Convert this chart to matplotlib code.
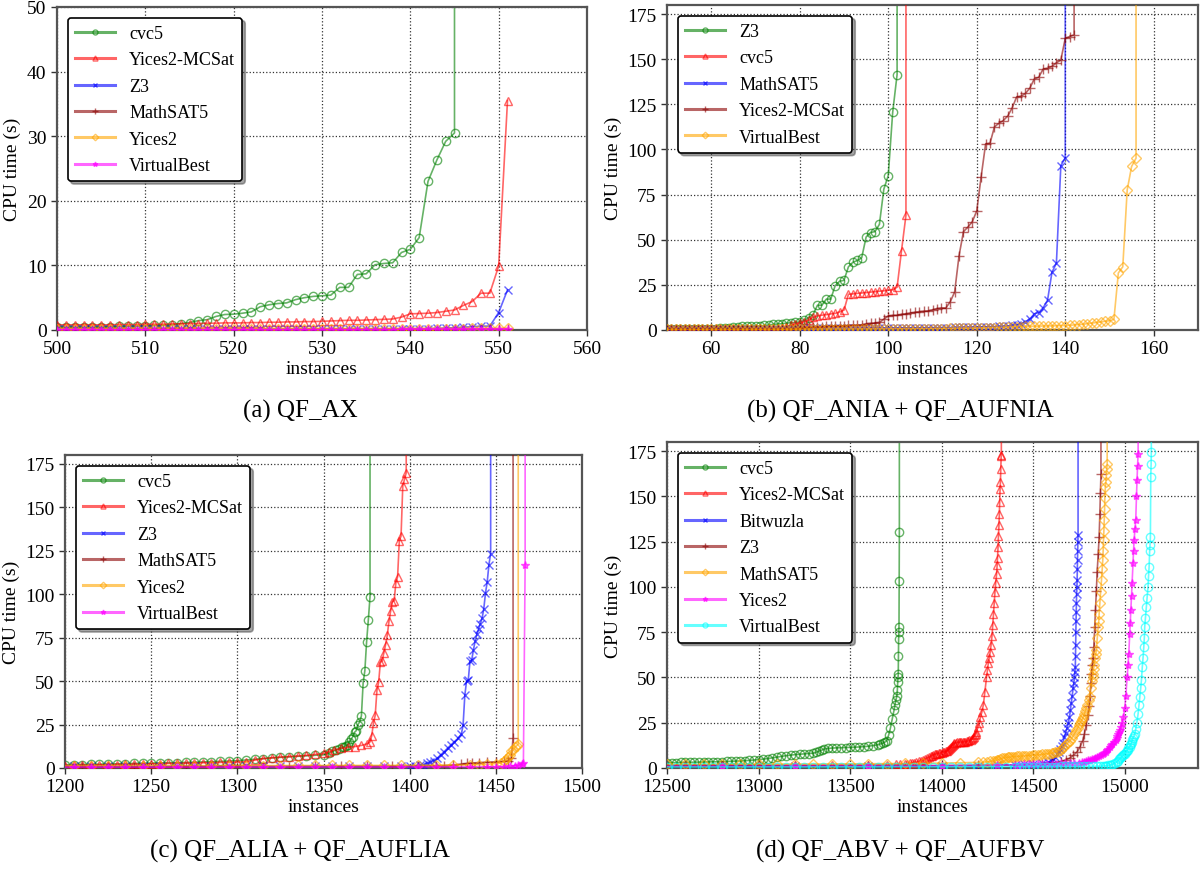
import matplotlib
matplotlib.use("Agg")
import matplotlib.pyplot as plt

plt.rcParams['font.family'] = ['Liberation Serif', 'DejaVu Serif']

TIMEOUT = 1200  # unsolved instances are drawn as a vertical line out of the plot

# per-position style (the papers' plotting script cycles these)
COLORS = ['green', 'red', 'blue', 'darkred', 'orange', 'magenta', 'cyan']
MARKERS = ['o', '^', 'x', '+', 'D', '*', 'o']
MSIZE = {'o': 6, '^': 6, 'x': 6, '+': 7, 'D': 5.5, '*': 6}

# ---------------- (a) QF_AX : one value per instance, starting at 499
a_start = 499
a_cvc5 = [0.45, 0.45, 0.45, 0.45, 0.45, 0.45, 0.45, 0.5, 0.55, 0.6,
          0.6, 0.65, 0.7, 0.75, 0.8, 1.0, 1.15, 1.45, 1.6, 2.1,
          2.4, 2.45, 2.6, 2.8, 3.6, 3.9, 4.1, 4.2, 4.7, 5.0,
          5.2, 5.3, 5.4, 6.6, 6.6, 8.6, 8.7, 10.1, 10.3, 10.4,
          12.0, 12.5, 14.3, 23.0, 26.3, 29.2, 30.5]
a_mcsat = [0.8, 0.8, 0.8, 0.8, 0.8, 0.8, 0.8, 0.8, 0.85, 0.85,
           0.85, 0.9, 0.9, 0.9, 0.95, 0.95, 1.0, 1.0, 1.05, 1.05,
           1.1, 1.1, 1.1, 1.15, 1.15, 1.2, 1.2, 1.25, 1.25, 1.3,
           1.3, 1.35, 1.4, 1.45, 1.5, 1.5, 1.55, 1.6, 1.65, 1.7,
           2.0, 2.5, 2.55, 2.6, 2.7, 2.9, 3.1, 3.8, 4.4, 5.7,
           5.7, 9.9, 35.5]
a_z3 = [0.1, 0.1, 0.1, 0.1, 0.1, 0.1, 0.1, 0.1, 0.1, 0.1,
        0.1, 0.1, 0.1, 0.1, 0.1, 0.1, 0.1, 0.1, 0.1, 0.1,
        0.12, 0.12, 0.12, 0.12, 0.12, 0.12, 0.12, 0.12, 0.12, 0.12,
        0.15, 0.15, 0.15, 0.15, 0.15, 0.15, 0.15, 0.15, 0.15, 0.15,
        0.15, 0.15, 0.15, 0.2, 0.25, 0.3, 0.35, 0.45, 0.5, 0.6,
        0.6, 2.7, 6.2]
a_msat = [0.05, 0.05, 0.05, 0.05, 0.05, 0.05, 0.05, 0.05, 0.05, 0.05,
          0.05, 0.05, 0.05, 0.05, 0.05, 0.05, 0.05, 0.05, 0.05, 0.05,
          0.05, 0.05, 0.05, 0.05, 0.05, 0.05, 0.05, 0.05, 0.05, 0.05,
          0.06, 0.06, 0.06, 0.06, 0.06, 0.06, 0.06, 0.06, 0.06, 0.06,
          0.07, 0.07, 0.07, 0.07, 0.07, 0.08, 0.08, 0.08, 0.09, 0.09,
          0.1, 0.1, 0.1]
a_yices = [0.15, 0.15, 0.15, 0.15, 0.15, 0.15, 0.15, 0.15, 0.15, 0.15,
           0.15, 0.15, 0.15, 0.15, 0.15, 0.15, 0.15, 0.15, 0.15, 0.15,
           0.17, 0.17, 0.17, 0.17, 0.17, 0.17, 0.17, 0.17, 0.17, 0.17,
           0.18, 0.18, 0.18, 0.18, 0.18, 0.18, 0.18, 0.18, 0.18, 0.18,
           0.2, 0.2, 0.2, 0.2, 0.2, 0.2, 0.22, 0.22, 0.24, 0.25,
           0.26, 0.28, 0.3]
a_vb = [0.05, 0.05, 0.05, 0.05, 0.05, 0.05, 0.05, 0.05, 0.05, 0.05,
        0.05, 0.05, 0.05, 0.05, 0.05, 0.05, 0.05, 0.05, 0.05, 0.05,
        0.06, 0.06, 0.06, 0.06, 0.06, 0.06, 0.06, 0.06, 0.06, 0.06,
        0.07, 0.07, 0.07, 0.07, 0.07, 0.07, 0.07, 0.07, 0.07, 0.07,
        0.08, 0.08, 0.08, 0.08, 0.08, 0.08, 0.09, 0.09, 0.09, 0.1,
        0.1, 0.1, 0.1]

# ---------------- (b) QF_ANIA + QF_AUFNIA : one value per instance, starting at 49
b_start = 49
b_z3 = [0.6, 0.6, 0.6, 0.6, 0.65, 0.65, 0.7, 0.7, 0.7, 0.75,
        0.75, 0.8, 0.8, 0.85, 0.9, 0.9,
        1.8, 1.9, 2.0, 2.0, 2.0, 2.1, 2.3, 2.5, 2.8, 3.1,
        3.3, 3.5, 3.8, 4.0, 4.2, 4.5, 5.3, 6.8, 8.5,
        13.7, 13.7, 17.1, 17.1, 24.5, 27.0, 27.5, 35.0, 37.5, 38.5,
        40.0, 51.5, 54.0, 54.5, 58.5, 78.0, 85.5, 120.5, 141.5]
b_cvc5 = [0.4, 0.4, 0.4, 0.4, 0.4, 0.45, 0.45, 0.45, 0.45, 0.45,
          0.5, 0.5, 0.5, 0.5, 0.5, 0.55, 0.55, 0.55, 0.55, 0.6,
          0.6, 0.6, 0.6, 0.65, 0.65, 0.7, 0.7,
          0.9, 1.5, 2.5, 3.3, 4.0, 4.5, 5.5, 7.0, 7.8, 8.2,
          8.5, 8.9, 9.2, 10.0, 11.0, 19.8, 20.0, 20.3, 20.5, 20.7,
          21.0, 21.2, 21.5, 21.7, 22.0, 22.3, 23.7, 44.0, 63.5]
b_msat = [0.5, 0.5, 0.5, 0.5, 0.5, 0.5, 0.5, 0.5, 0.55, 0.55,
          0.55, 0.55, 0.6, 0.6, 0.6, 0.6, 0.6, 0.65, 0.65, 0.65,
          0.65, 0.7, 0.7, 0.7, 0.7, 0.75, 0.75, 0.75, 0.8, 0.8,
          0.8, 0.8, 0.85, 0.85, 0.85, 0.9, 0.9, 0.9, 0.95, 0.95,
          0.95, 1.0, 1.0, 1.0, 1.0, 1.05, 1.05, 1.05, 1.1, 1.1,
          1.1, 1.15, 1.15, 1.15, 1.2, 1.2, 1.2, 1.25, 1.25, 1.25,
          1.3, 1.3, 1.3, 1.35, 1.35, 1.35, 1.4, 1.4, 1.45, 1.5, 1.55,
          1.6, 1.7, 1.8, 1.9, 1.9, 2.0, 2.0, 2.2, 2.6, 3.0,
          3.5, 4.6, 6.0, 9.0, 9.6, 12.3, 16.5, 32.0, 37.0, 91.0, 95.4]
b_mcsat = [0.3, 0.3, 0.3, 0.3, 0.3, 0.3, 0.3, 0.3, 0.3, 0.3,
           0.35, 0.35, 0.35, 0.35, 0.35, 0.35, 0.35, 0.35, 0.35, 0.35,
           0.4, 0.4, 0.4, 0.4, 0.4, 0.45, 0.45, 0.5, 0.55, 0.6,
           0.8, 1.0, 1.2, 1.4, 1.6, 1.8, 1.9, 2.0, 2.2, 2.3,
           2.35, 2.4, 2.5, 2.6, 2.7, 2.8, 3.5, 3.7, 3.9, 4.2,
           6.0, 7.8, 8.1, 8.1, 8.7, 9.0, 9.4, 9.8, 10.2, 10.4,
           10.6, 11.2, 11.9, 12.2, 12.2, 15.6, 21.0, 41.2, 54.5, 57.0,
           60.0, 66.0, 85.0, 103.0, 103.5, 112.5, 114.5, 116.0, 118.5, 123.0,
           129.0, 129.5, 131.0, 134.0, 139.0, 140.0, 144.5, 145.0, 146.0, 148.0,
           149.5, 161.5, 162.5, 163.5]
b_vb = [0.3, 0.3, 0.3, 0.3, 0.3, 0.3, 0.3, 0.3, 0.3, 0.3,
        0.3, 0.3, 0.3, 0.3, 0.35, 0.35, 0.35, 0.35, 0.35, 0.35,
        0.35, 0.35, 0.4, 0.4, 0.4, 0.4, 0.4, 0.4, 0.4, 0.4,
        0.45, 0.45, 0.45, 0.45, 0.45, 0.45, 0.5, 0.5, 0.5, 0.5,
        0.5, 0.5, 0.5, 0.55, 0.55, 0.55, 0.55, 0.55, 0.6, 0.6,
        0.6, 0.6, 0.6, 0.65, 0.65, 0.65, 0.65, 0.7, 0.7, 0.7,
        0.7, 0.75, 0.75, 0.8, 0.8, 0.85, 0.9, 0.95, 1.0, 1.05,
        1.1, 1.15, 1.2, 1.25, 1.3, 1.35, 1.4, 1.5, 1.6, 1.7,
        1.8, 1.9, 2.0, 2.05, 2.1, 2.15, 2.2, 2.25, 2.3, 2.35,
        2.4, 2.45, 2.6, 2.8, 3.0, 3.2, 3.5, 3.8, 4.1, 4.5,
        4.8, 5.1, 5.9, 31.6, 35.0, 77.6, 90.6, 95.2]

# ---------------- (c) QF_ALIA + QF_AUFLIA : (instances, seconds)
c_cvc5 = [(1195, 1.8), (1200, 1.9), (1205, 2.0), (1210, 2.0), (1215, 2.1), (1220, 2.2),
          (1225, 2.3), (1230, 2.4), (1235, 2.5), (1240, 2.6), (1245, 2.7), (1250, 2.8),
          (1255, 2.9), (1260, 3.0), (1265, 3.1), (1270, 3.2), (1275, 3.35), (1280, 3.5),
          (1285, 3.65), (1290, 3.8), (1295, 4.0), (1300, 4.2), (1305, 4.6), (1310, 5.0),
          (1315, 5.4), (1320, 5.8), (1325, 6.1), (1330, 6.4), (1335, 6.7), (1340, 7.0),
          (1345, 7.3), (1350, 7.6), (1353, 8.5), (1355, 9.5), (1357, 10.2), (1359, 11.0),
          (1361, 11.8), (1362, 12.3), (1363, 12.8), (1364, 13.3), (1365, 15.0), (1366, 16.5),
          (1367, 18.0), (1368, 20.5), (1369, 21.5), (1370, 25.0), (1371, 26.5), (1372, 30.0),
          (1373, 49.0), (1374, 56.0), (1375, 72.5), (1376, 85.0), (1377, 98.5)]
c_mcsat = [(1195, 1.3), (1200, 1.4), (1205, 1.5), (1210, 1.6), (1215, 1.7), (1220, 1.8),
           (1225, 1.9), (1230, 2.0), (1235, 2.1), (1240, 2.2), (1245, 2.3), (1250, 2.4),
           (1255, 2.5), (1260, 2.6), (1265, 2.7), (1270, 2.8), (1275, 2.9), (1280, 3.0),
           (1285, 3.1), (1290, 3.2), (1295, 3.3), (1300, 3.4), (1305, 3.6), (1310, 4.5),
           (1315, 5.4), (1320, 5.9), (1325, 6.3), (1330, 6.6), (1335, 6.9), (1340, 7.3),
           (1345, 7.8), (1350, 8.4), (1353, 9.3), (1356, 10.3), (1360, 11.3), (1364, 11.8),
           (1368, 12.3), (1372, 13.0), (1375, 13.8), (1377, 15.0), (1378, 18.6), (1379, 26.0),
           (1380, 30.2), (1381, 44.6), (1382, 49.3), (1383, 60.7), (1384, 61.5), (1385, 66.0),
           (1386, 70.8), (1387, 76.3), (1388, 84.4), (1389, 90.5), (1390, 95.6), (1391, 96.2),
           (1392, 106.6), (1393, 110.0), (1394, 130.7), (1395, 133.4), (1396, 162.2),
           (1397, 166.0), (1398, 169.8)]
c_z3 = [(1195, 0.9), (1205, 0.9), (1215, 0.9), (1225, 0.9), (1235, 0.9), (1245, 0.9),
        (1255, 0.9), (1265, 0.9), (1275, 0.9), (1285, 0.9), (1295, 0.95), (1305, 0.95),
        (1315, 0.95), (1325, 0.95), (1335, 1.0), (1345, 1.0), (1355, 1.0), (1365, 1.0),
        (1375, 1.0), (1385, 1.0), (1395, 1.0), (1400, 1.0), (1403, 1.2), (1406, 1.6),
        (1408, 2.0), (1410, 2.6), (1412, 3.2), (1414, 4.3), (1416, 5.7), (1418, 7.5),
        (1420, 9.4), (1422, 11.4), (1424, 13.3), (1426, 15.2), (1428, 17.0), (1430, 19.5),
        (1431, 24.7), (1432, 41.7), (1433, 50.0), (1434, 50.5), (1435, 61.5), (1436, 62.0),
        (1437, 68.0), (1438, 73.0), (1439, 77.0), (1440, 80.0), (1441, 83.0), (1442, 86.0),
        (1443, 91.5), (1444, 100.6), (1445, 107.0), (1446, 117.0), (1447, 123.3)]
c_msat = [(1195, 0.8), (1210, 0.8), (1225, 0.8), (1240, 0.8), (1255, 0.8), (1270, 0.8),
          (1285, 0.8), (1300, 0.85), (1315, 0.85), (1330, 0.85), (1345, 0.9), (1360, 0.9),
          (1375, 0.9), (1390, 0.95), (1405, 1.0), (1415, 1.2), (1420, 1.4), (1425, 1.7),
          (1430, 2.2), (1433, 2.6), (1436, 2.9), (1440, 3.1), (1445, 3.3), (1450, 3.5),
          (1455, 3.8), (1457, 4.2), (1459, 5.5), (1460, 17.5)]
c_yices = [(1195, 1.3), (1205, 1.3), (1215, 1.3), (1225, 1.3), (1235, 1.3), (1245, 1.3),
           (1255, 1.35), (1265, 1.35), (1275, 1.35), (1285, 1.35), (1295, 1.4), (1305, 1.4),
           (1315, 1.4), (1325, 1.4), (1335, 1.45), (1345, 1.45), (1355, 1.45), (1365, 1.5),
           (1375, 1.5), (1385, 1.5), (1395, 1.55), (1405, 1.6), (1415, 1.65), (1425, 1.7),
           (1435, 1.8), (1440, 1.9), (1445, 2.1), (1450, 2.5), (1453, 3.0), (1455, 3.8),
           (1456, 5.1), (1457, 6.5), (1458, 7.6), (1459, 9.5), (1460, 10.5), (1461, 12.0),
           (1462, 12.7), (1463, 13.7)]
c_vb = [(1195, 0.5), (1205, 0.5), (1215, 0.5), (1225, 0.5), (1235, 0.5), (1245, 0.5),
        (1255, 0.5), (1265, 0.5), (1275, 0.5), (1285, 0.5), (1295, 0.55), (1305, 0.55),
        (1315, 0.55), (1325, 0.55), (1335, 0.55), (1345, 0.6), (1355, 0.6), (1365, 0.6),
        (1375, 0.6), (1385, 0.6), (1395, 0.65), (1405, 0.65), (1415, 0.65), (1425, 0.7),
        (1435, 0.7), (1445, 0.75), (1450, 0.8), (1455, 0.85), (1458, 0.9), (1461, 1.2),
        (1463, 1.6), (1465, 2.5), (1466, 3.0), (1467, 117.0)]

# ---------------- (d) QF_ABV + QF_AUFBV : (instances, seconds)
d_cvc5 = [(12450, 2.8), (12475, 2.85), (12500, 2.9), (12525, 2.95), (12550, 3.0), (12575, 3.05),
          (12600, 3.1), (12625, 3.15), (12650, 3.2), (12675, 3.25), (12700, 3.3), (12725, 3.35),
          (12750, 3.4), (12775, 3.45), (12800, 3.5), (12825, 3.6), (12850, 3.7), (12875, 3.8),
          (12900, 3.9), (12925, 4.05), (12950, 4.2), (12975, 4.4), (13000, 4.6), (13025, 4.9),
          (13050, 5.2), (13075, 5.6), (13100, 6.0), (13125, 6.4), (13150, 6.8), (13175, 7.1),
          (13200, 7.4), (13225, 7.6), (13250, 7.8), (13275, 8.0), (13300, 8.2), (13315, 8.7),
          (13330, 9.3), (13345, 9.9), (13360, 10.5), (13380, 10.8), (13400, 11.0),
          (13425, 11.1), (13450, 11.2), (13475, 11.3), (13500, 11.4), (13525, 11.5),
          (13550, 11.6), (13575, 11.8), (13600, 12.0), (13625, 12.4), (13650, 12.8),
          (13665, 13.3), (13680, 13.8), (13690, 14.3), (13700, 15.0), (13710, 18.0),
          (13720, 22.0), (13730, 27.0), (13740, 32.0), (13745, 35.0), (13750, 37.5),
          (13755, 39.5), (13758, 43.0), (13760, 47.5), (13762, 50.0), (13763, 52.0),
          (13764, 62.0), (13765, 71.5), (13766, 75.0), (13767, 78.0), (13768, 103.0),
          (13769, 130.5)]
d_mcsat = [(12450, 1.7), (12600, 1.7), (12800, 1.7), (13000, 1.7), (13200, 1.7), (13400, 1.7),
           (13600, 1.8), (13700, 1.9), (13750, 2.0), (13775, 2.1), (13800, 2.2), (13812, 2.4),
           (13825, 2.6), (13837, 2.8), (13850, 3.0), (13862, 3.3), (13875, 3.7), (13887, 4.1),
           (13900, 4.5), (13910, 5.0), (13920, 5.5), (13930, 6.0), (13940, 6.5), (13948, 6.9),
           (13955, 7.3), (13962, 7.6), (13970, 7.8), (13977, 8.0), (13985, 8.2), (13992, 8.3),
           (14000, 8.5), (14008, 8.7), (14015, 9.0), (14022, 9.2), (14030, 9.5), (14035, 10.0),
           (14040, 10.5), (14045, 11.0), (14050, 11.5), (14055, 12.2), (14060, 12.8),
           (14065, 13.3), (14070, 13.8), (14078, 14.0), (14085, 14.2), (14092, 14.25),
           (14100, 14.3), (14108, 14.35), (14115, 14.4), (14122, 14.45), (14130, 14.5),
           (14138, 14.7), (14145, 15.0), (14152, 15.2), (14160, 15.5), (14165, 16.0),
           (14170, 16.5), (14175, 17.2), (14180, 18.0), (14185, 19.0), (14190, 20.0),
           (14198, 22.5), (14205, 25.0), (14212, 28.0), (14220, 31.0), (14228, 35.0),
           (14236, 42.0), (14245, 50.0), (14250, 54.0), (14255, 58.0), (14260, 61.0),
           (14265, 64.0), (14270, 68.0), (14275, 73.0), (14279, 79.0), (14283, 85.0),
           (14287, 91.0), (14291, 97.0), (14295, 102.0), (14300, 107.0), (14303, 112.0),
           (14305, 116.0), (14308, 122.0), (14310, 128.0), (14313, 134.0), (14315, 140.0),
           (14317, 147.0), (14319, 154.0), (14321, 158.0), (14323, 165.0), (14325, 172.0),
           (14326, 173.0)]
d_bitwuzla = [(12450, 1.0), (12800, 1.0), (13200, 1.0), (13600, 1.1), (14000, 1.2), (14200, 1.3),
              (14300, 1.5), (14400, 1.8), (14450, 2.0), (14500, 2.2), (14550, 2.6), (14580, 3.2),
              (14600, 4.0), (14610, 5.0), (14620, 6.0), (14630, 7.5), (14640, 9.0), (14648, 10.5),
              (14655, 12.0), (14662, 14.0), (14670, 17.0), (14677, 19.5), (14685, 22.0),
              (14692, 25.0), (14698, 28.0), (14703, 32.0), (14708, 36.0), (14713, 40.0),
              (14718, 44.0), (14722, 47.0), (14725, 50.0), (14728, 53.0), (14730, 56.0),
              (14731, 62.0), (14732, 68.0), (14733, 75.0), (14734, 81.0), (14735, 86.0),
              (14736, 91.0), (14737, 96.0), (14739, 100.0), (14740, 104.0), (14741, 110.0),
              (14742, 115.0), (14743, 120.0), (14744, 125.0), (14745, 128.5)]
d_z3 = [(12450, 1.2), (12800, 1.2), (13200, 1.2), (13600, 1.3), (14000, 1.4), (14200, 1.5),
        (14400, 1.7), (14500, 2.0), (14550, 2.3), (14600, 2.7), (14650, 3.5), (14680, 4.5),
        (14700, 5.5), (14720, 7.0), (14740, 9.0), (14755, 11.5), (14770, 15.0), (14780, 19.0),
        (14790, 24.0), (14798, 29.0), (14805, 34.0), (14810, 40.0), (14815, 47.0),
        (14818, 52.0), (14823, 57.0), (14827, 61.0), (14831, 67.0), (14836, 78.0),
        (14840, 87.0), (14845, 98.0), (14849, 108.0), (14855, 118.0), (14860, 127.6),
        (14864, 140.5), (14867, 151.6), (14870, 162.6)]
d_msat = [(12450, 2.0), (12500, 2.0), (12600, 2.0), (12700, 2.0), (12800, 2.05), (12900, 2.1),
          (13000, 2.1), (13100, 2.15), (13200, 2.2), (13300, 2.2), (13400, 2.25), (13500, 2.3),
          (13600, 2.35), (13700, 2.4), (13800, 2.5), (13900, 2.6), (14000, 2.7), (14100, 2.9),
          (14200, 3.1), (14225, 3.2), (14250, 3.4), (14265, 3.6), (14280, 3.8), (14290, 4.0),
          (14300, 4.3), (14310, 4.6), (14320, 5.0), (14330, 5.3), (14340, 5.6), (14350, 5.75),
          (14360, 5.9), (14370, 6.0), (14380, 6.1), (14390, 6.2), (14400, 6.3), (14412, 6.4),
          (14425, 6.5), (14437, 6.55), (14450, 6.6), (14462, 6.7), (14475, 6.8), (14487, 6.9),
          (14500, 7.0), (14512, 7.1), (14525, 7.2), (14537, 7.35), (14550, 7.5), (14562, 7.65),
          (14575, 7.8), (14587, 8.0), (14600, 8.2), (14610, 8.5), (14620, 8.8), (14630, 9.1),
          (14640, 9.5), (14650, 10.2), (14660, 11.0), (14670, 12.0), (14680, 13.0),
          (14690, 14.0), (14700, 15.0), (14710, 16.5), (14720, 18.0), (14728, 19.4),
          (14736, 20.8), (14743, 22.2), (14750, 23.5), (14756, 24.8), (14762, 26.0),
          (14768, 27.0), (14773, 28.0), (14779, 29.8), (14785, 31.5), (14790, 33.2),
          (14795, 35.0), (14802, 37.5), (14809, 39.0), (14815, 44.0), (14820, 48.0),
          (14824, 50.0), (14827, 52.0), (14830, 54.5), (14833, 57.0), (14838, 61.0),
          (14842, 63.0), (14845, 65.0), (14850, 72.0), (14855, 78.0), (14858, 81.0),
          (14860, 85.0), (14864, 91.0), (14868, 97.0), (14873, 103.7), (14877, 110.0),
          (14880, 115.0), (14882, 120.0), (14884, 126.0), (14886, 131.0), (14888, 137.0),
          (14890, 143.0), (14891, 149.0), (14894, 155.0), (14897, 158.0), (14900, 161.7),
          (14902, 165.0), (14904, 168.0)]
d_yices = [(12450, 1.0), (12800, 1.0), (13200, 1.0), (13600, 1.1), (14000, 1.2), (14300, 1.5),
           (14400, 1.8), (14425, 1.9), (14450, 2.0), (14475, 2.1), (14500, 2.2), (14525, 2.25),
           (14550, 2.3), (14575, 2.35), (14600, 2.4), (14625, 2.45), (14650, 2.5), (14675, 2.55),
           (14700, 2.6), (14725, 2.75), (14750, 2.9), (14765, 3.2), (14780, 3.5), (14790, 3.85),
           (14800, 4.2), (14810, 4.5), (14820, 4.8), (14830, 5.1), (14840, 5.5), (14850, 6.0),
           (14860, 6.5), (14870, 7.1), (14880, 7.8), (14888, 8.4), (14895, 9.0), (14903, 9.7),
           (14910, 10.5), (14918, 11.5), (14925, 12.5), (14933, 13.5), (14940, 14.5),
           (14950, 15.4), (14955, 16.4), (14960, 17.5), (14965, 18.7), (14970, 20.0),
           (14975, 21.2), (14980, 22.5), (14986, 24.6), (14993, 28.0), (15000, 33.0),
           (15006, 40.0), (15013, 50.0), (15018, 57.0), (15022, 63.0), (15027, 74.0),
           (15030, 80.0), (15033, 87.0), (15037, 95.0), (15040, 102.0), (15045, 113.0),
           (15048, 120.0), (15051, 126.0), (15056, 132.0), (15060, 137.0), (15064, 150.0),
           (15067, 159.0), (15070, 167.0), (15073, 173.6)]
d_vb = [(12450, 0.6), (12500, 0.6), (12550, 0.6), (12600, 0.6), (12650, 0.6), (12700, 0.6),
        (12750, 0.6), (12800, 0.6), (12850, 0.6), (12900, 0.6), (12950, 0.6), (13000, 0.6),
        (13050, 0.6), (13100, 0.6), (13150, 0.6), (13200, 0.6), (13250, 0.6), (13300, 0.65),
        (13350, 0.65), (13400, 0.65), (13450, 0.65), (13500, 0.65), (13550, 0.65),
        (13600, 0.65), (13650, 0.65), (13700, 0.7), (13750, 0.7), (13800, 0.7), (13850, 0.7),
        (13900, 0.7), (13950, 0.7), (14000, 0.7), (14050, 0.7), (14100, 0.75), (14150, 0.75),
        (14200, 0.75), (14250, 0.75), (14300, 0.75), (14350, 0.75), (14400, 0.8),
        (14425, 0.8), (14450, 0.8), (14475, 0.8), (14500, 0.8), (14525, 0.8), (14550, 0.8),
        (14575, 0.8), (14600, 0.8), (14625, 0.82), (14650, 0.85), (14675, 0.85),
        (14700, 0.85), (14725, 0.85), (14750, 0.85), (14775, 0.88), (14800, 0.9),
        (14825, 0.92), (14850, 0.95), (14865, 1.0), (14880, 1.1), (14890, 1.2), (14900, 1.3),
        (14910, 1.4), (14918, 1.5), (14926, 1.8), (14935, 2.2), (14945, 2.7), (14955, 3.3),
        (14962, 4.0), (14970, 4.8), (14975, 5.3), (14980, 5.8), (14985, 6.4), (14991, 7.0),
        (14995, 7.5), (15000, 8.0), (15005, 8.7), (15010, 9.5), (15015, 10.2), (15020, 10.8),
        (15027, 11.6), (15031, 12.5), (15035, 13.5), (15038, 14.5), (15042, 15.5),
        (15046, 16.5), (15050, 17.5), (15055, 19.0), (15060, 21.5), (15066, 25.0),
        (15073, 30.0), (15078, 35.0), (15082, 39.0), (15087, 44.0), (15091, 48.4),
        (15096, 56.0), (15100, 61.0), (15104, 67.0), (15107, 72.0), (15109, 78.0),
        (15113, 83.0), (15118, 89.0), (15122, 94.0), (15127, 100.0), (15130, 106.0),
        (15133, 111.0), (15136, 120.0), (15138, 123.0), (15140, 127.6), (15142, 160.8),
        (15144, 168.0), (15145, 174.6)]


def consecutive(start, ys):
    """Instance counts start, start+1, ... for a list of sorted times."""
    return list(range(start, start + len(ys))), ys


def pairs(pts):
    return [p[0] for p in pts], [p[1] for p in pts]


def cactus(ax, series, xlim, ylim, xticks, yticks):
    """series: list of (label, xs, ys, runs_out) in legend order."""
    for i, (label, xs, ys, runs_out) in enumerate(series):
        xs, ys = list(xs), list(ys)
        if runs_out:
            xs.append(xs[-1])
            ys.append(TIMEOUT)
        m = MARKERS[i]
        ax.plot(xs, ys, color=COLORS[i], marker=m, ms=MSIZE[m], mew=1.0,
                mfc=COLORS[i] if m == '*' else 'none', lw=1.2, alpha=0.6,
                label=label, zorder=2 + i)

    ax.set_xlim(xlim)
    ax.set_ylim(ylim)
    ax.set_xticks(xticks)
    ax.set_yticks(yticks)
    ax.set_xlabel('instances', fontsize=14, labelpad=2)
    ax.set_ylabel('CPU time (s)', fontsize=14, labelpad=4)
    ax.tick_params(labelsize=14, length=4, width=1, color='#333333')
    ax.grid(True, color='black', linestyle=':', linewidth=0.9, alpha=0.8)
    ax.set_axisbelow(True)
    for s in ax.spines.values():
        s.set_color('#555555')
        s.set_linewidth(1.6)

    leg = ax.legend(loc='upper left', fontsize=13, frameon=True, fancybox=True,
                    shadow=True, framealpha=1, edgecolor='black',
                    borderaxespad=0.6, labelspacing=0.52, handlelength=2.2,
                    markerscale=0.6)
    leg.get_frame().set_linewidth(1.2)
    leg.set_zorder(20)
    for h in leg.legend_handles:
        h.set_linewidth(2.2)


fig = plt.figure(figsize=(12, 8.7), dpi=100)

ax_a = fig.add_axes([57 / 1200, 539 / 870, 530 / 1200, 323 / 870])
ax_b = fig.add_axes([667 / 1200, 539 / 870, 531 / 1200, 325 / 870])
ax_c = fig.add_axes([65 / 1200, 101 / 870, 517 / 1200, 313 / 870])
ax_d = fig.add_axes([667 / 1200, 101 / 870, 531 / 1200, 326 / 870])

cactus(ax_a, [
    ('cvc5', *consecutive(a_start, a_cvc5), True),
    ('Yices2-MCSat', *consecutive(a_start, a_mcsat), False),
    ('Z3', *consecutive(a_start, a_z3), False),
    ('MathSAT5', *consecutive(a_start, a_msat), False),
    ('Yices2', *consecutive(a_start, a_yices), False),
    ('VirtualBest', *consecutive(a_start, a_vb), False),
], (500, 560), (0, 50), range(500, 561, 10), range(0, 51, 10))

cactus(ax_b, [
    ('Z3', *consecutive(b_start, b_z3), True),
    ('cvc5', *consecutive(b_start, b_cvc5), True),
    ('MathSAT5', *consecutive(b_start, b_msat), True),
    ('Yices2-MCSat', *consecutive(b_start, b_mcsat), True),
    ('VirtualBest', *consecutive(b_start, b_vb), True),
], (50, 170), (0, 180), range(60, 161, 20), range(0, 176, 25))

cactus(ax_c, [
    ('cvc5', *pairs(c_cvc5), True),
    ('Yices2-MCSat', *pairs(c_mcsat), True),
    ('Z3', *pairs(c_z3), True),
    ('MathSAT5', *pairs(c_msat), True),
    ('Yices2', *pairs(c_yices), True),
    ('VirtualBest', *pairs(c_vb), True),
], (1200, 1500), (0, 180), range(1200, 1501, 50), range(0, 176, 25))

cactus(ax_d, [
    ('cvc5', *pairs(d_cvc5), True),
    ('Yices2-MCSat', *pairs(d_mcsat), True),
    ('Bitwuzla', *pairs(d_bitwuzla), True),
    ('Z3', *pairs(d_z3), True),
    ('MathSAT5', *pairs(d_msat), True),
    ('Yices2', *pairs(d_yices), True),
    ('VirtualBest', *pairs(d_vb), True),
], (12500, 15400), (0, 180), range(12500, 15001, 500), range(0, 176, 25))

# sub-figure captions
fig.text(0.25, 1 - 411 / 870, '(a) QF_AX', ha='center', va='center', fontsize=18)
fig.text(0.75, 1 - 411 / 870, '(b) QF_ANIA + QF_AUFNIA', ha='center', va='center', fontsize=18)
fig.text(0.25, 1 - 851 / 870, '(c) QF_ALIA + QF_AUFLIA', ha='center', va='center', fontsize=18)
fig.text(0.75, 1 - 851 / 870, '(d) QF_ABV + QF_AUFBV', ha='center', va='center', fontsize=18)

fig.savefig('out.png', dpi=100)
